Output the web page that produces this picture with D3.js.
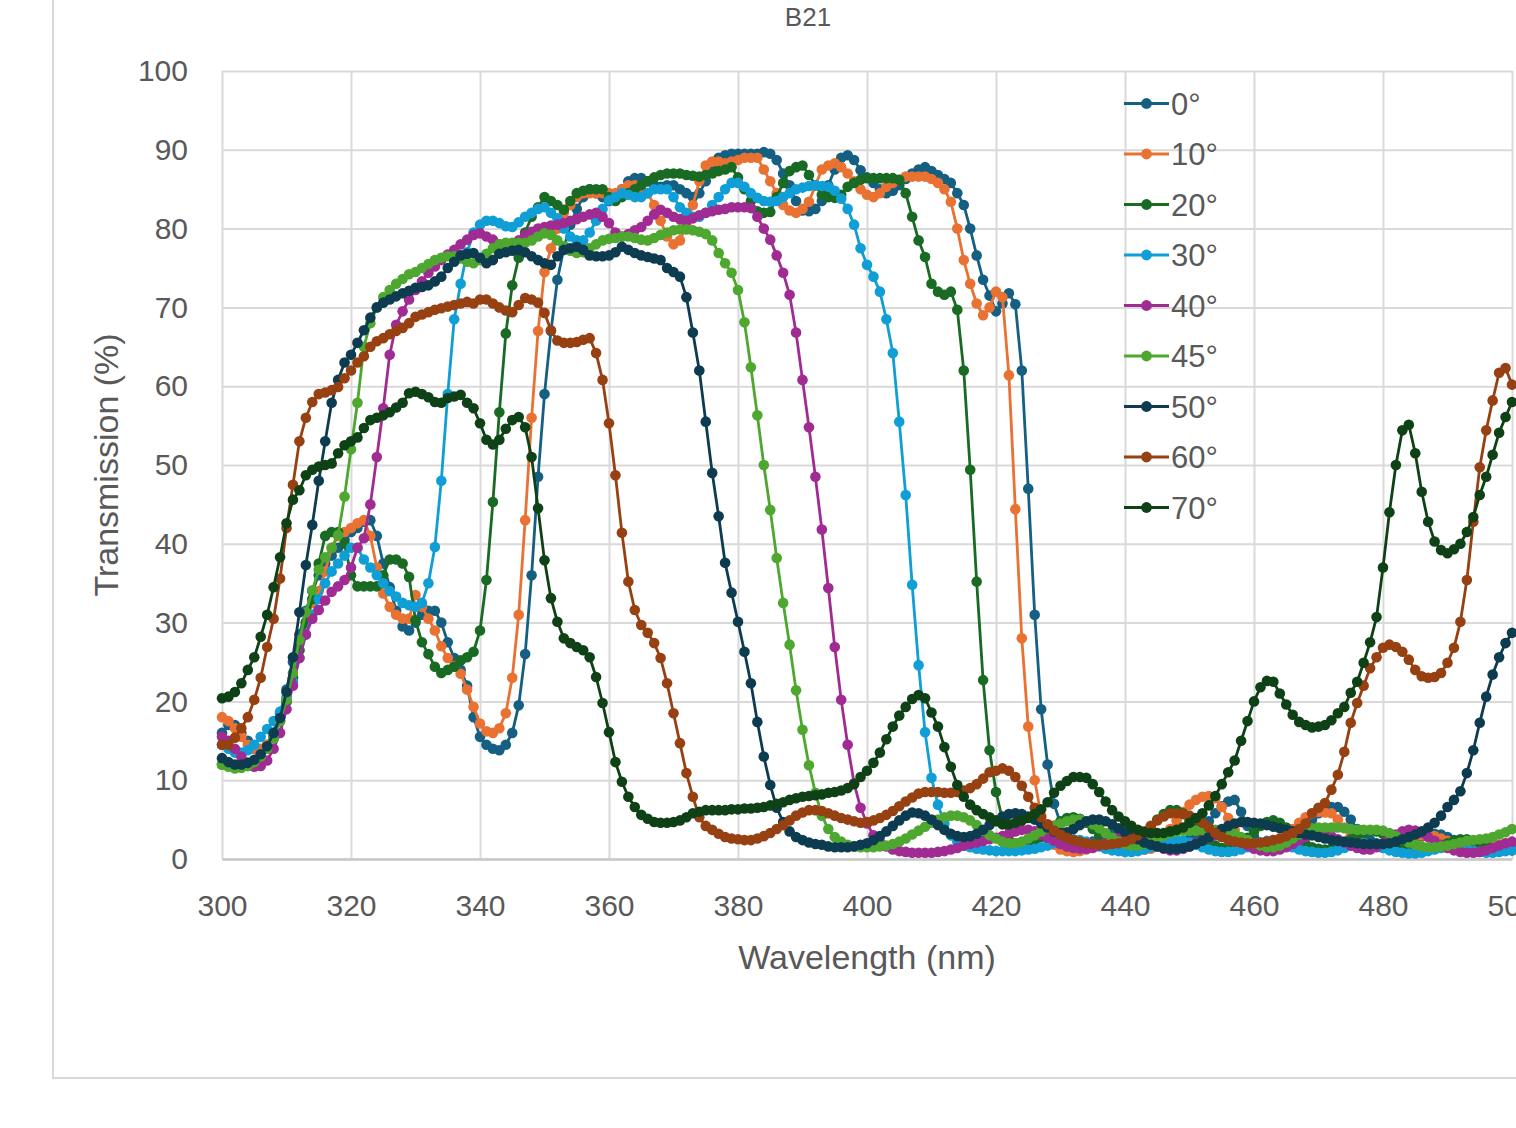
<!DOCTYPE html>
<html>
<head>
<meta charset="utf-8">
<script src="https://cdn.jsdelivr.net/npm/d3@7"></script>
<style>
  body { margin: 0; background: #ffffff; }
  svg text { font-family: "Liberation Sans", Arial, sans-serif; }
</style>
</head>
<body>
<div id="content"></div>
<script>
// sampling grid of the spectrometer: 300..500 nm, 1 nm steps
let wavelengths = d3.range(300, 501, 1);

// transmission (%) per angle of incidence, one row = 10 nm
let t0 = [
  16, 17, 17, 16, 15, 14, 13.8, 14.5, 16, 18.5,
  21.5, 25, 28.5, 31.5, 34, 36, 37.5, 38.5, 39.5, 40.5,
  41.5, 42, 42.8, 43, 41, 37.5, 34.5, 31.5, 29.5, 29,
  30, 31, 31.5, 31.5, 30, 27.5, 25.5, 24, 22, 18,
  15.5, 14.5, 14, 13.8, 14.5, 16, 19.5, 26, 36, 48.5,
  59, 67, 73.5, 77.5, 80.5, 82.5, 84, 85, 84.5, 84,
  83.5, 84, 85, 86, 86.4, 86.4, 86, 85.5, 85.3, 85.5,
  85.5, 85, 84.5, 84, 84.5, 86, 87.5, 89, 89.3, 89.5,
  89.5, 89.5, 89.5, 89.5, 89.7, 89.5, 88.7, 87, 85.5, 83.5,
  82.3, 82.2, 82.5, 83.5, 85.5, 87.5, 89, 89.3, 88.7, 87.4,
  86.5, 85.8, 85, 84.5, 84.8, 85.5, 86.3, 87, 87.5, 87.8,
  87.3, 86.8, 86.3, 85.8, 84.5, 83, 80, 76.6, 73.5, 71.5,
  69.5, 70.5, 71.8, 70.4, 62, 47, 31, 19, 12, 7,
  4.5, 3, 2.2, 2, 2, 2.2, 2.5, 3, 3.5, 3.8,
  3.8, 3.5, 3, 2.5, 2.1, 1.8, 1.7, 1.7, 1.9, 2.2,
  2.5, 3, 3.8, 4.8, 5.8, 6.7, 7.3, 7.5, 6, 4.2,
  2.8, 2, 1.6, 1.5, 1.6, 2, 2.6, 3.3, 4, 5,
  5.8, 6.4, 6.6, 6.6, 6, 5, 3.8, 3, 2.4, 2,
  1.8, 1.7, 1.8, 2, 2.3, 2.6, 2.9, 3.1, 3.2, 3.1,
  2.8, 2.4, 2, 1.7, 1.5, 1.4, 1.4, 1.5, 1.7, 1.9,
  2
];
let t10 = [
  18, 17.5, 16.6, 15.5, 14.5, 14, 14, 14.5, 15.5, 17.5,
  20, 23, 26.5, 30, 32.5, 34, 36.5, 39.5, 41, 41.5,
  42, 42.6, 43, 41, 37, 33.7, 32, 31, 30.5, 30.5,
  33.5, 32, 30.5, 29, 27, 25.5, 24.5, 23.5, 21.5, 19.3,
  17.2, 16.2, 16, 16.6, 18.5, 23, 31, 43, 56, 67,
  74.5, 77.5, 80, 82, 83, 84, 84.5, 84.5, 84.5, 84.5,
  84.5, 84.5, 85, 85.5, 85.5, 85, 84.5, 83, 81, 79,
  78, 78.5, 80.5, 83, 86, 88, 88.5, 88.5, 88.3, 88.5,
  88.7, 89, 89, 89, 87.5, 86, 84.5, 83, 82.3, 82,
  82.5, 83.4, 85.5, 87.5, 88, 88.3, 87.8, 87, 86, 85,
  84.3, 84, 84.5, 85.3, 85.8, 86.2, 86.6, 86.6, 86.6, 86.6,
  86.3, 85.8, 85, 83.4, 80, 76, 73, 70.5, 69, 70,
  72, 71.3, 61.4, 44.4, 28, 16.8, 10, 5.5, 3, 1.8,
  1.2, 1, 0.9, 1, 1.2, 1.5, 1.8, 2, 2, 1.8,
  1.5, 1.3, 1.2, 1.2, 1.3, 2, 2.8, 3.8, 4.9, 6,
  6.9, 7.5, 7.9, 8, 7.7, 6.6, 5.2, 3.7, 2.6, 1.9,
  1.5, 1.4, 1.5, 1.8, 2.3, 3, 3.8, 4.6, 5.3, 5.8,
  6, 5.9, 5.8, 5, 4, 3, 2.4, 2, 1.7, 1.6,
  1.6, 1.7, 1.9, 2.2, 2.5, 2.8, 3, 3, 2.9, 2.6,
  2.3, 2, 1.7, 1.5, 1.4, 1.4, 1.5, 1.6, 1.8, 2,
  2.1
];
let t20 = [
  12, 11.8, 11.6, 11.6, 11.8, 12.2, 13, 14, 15.5, 17.5,
  20, 23, 26.5, 30, 33, 37.5, 41, 41.5, 41.5, 40,
  36, 34.6, 34.6, 34.6, 34.6, 36, 38, 38, 37.5, 35.8,
  30.3, 27.5, 26, 24.4, 23.6, 24, 24.4, 25.2, 25.6, 26.3,
  29, 35.4, 45.3, 56.7, 66.7, 72.8, 76.3, 79.5, 81.5, 82.7,
  84, 83.5, 83, 82.4, 83.5, 84.5, 84.8, 85, 85, 85,
  84, 83.5, 84, 84.5, 85, 85.5, 86, 86.5, 86.8, 87,
  87, 87, 86.8, 86.7, 86.6, 86.8, 87, 87.3, 87.5, 87.8,
  86.5, 85, 83.5, 82.2, 82, 82.1, 84, 85.8, 87.3, 87.8,
  88, 86.8, 85.5, 84.3, 84, 83.9, 84.3, 85.3, 85.8, 86.2,
  86.4, 86.4, 86.4, 86.4, 86.4, 86.2, 84.5, 81.5, 78.5, 76.4,
  73, 72, 71.6, 72, 69.7, 62, 49.4, 35.2, 22.7, 13.8,
  8.5, 5, 3, 2, 1.7, 1.8, 2.2, 2.8, 3.5, 4.2,
  4.8, 5.2, 5.3, 5.1, 4.6, 3.8, 3, 2.3, 1.8, 1.6,
  1.6, 1.9, 2.4, 3.2, 4.1, 5, 5.7, 6.2, 6.2, 5.8,
  5, 4, 3, 2.2, 1.7, 1.4, 1.3, 1.5, 2, 2.7,
  3.5, 4.2, 4.7, 4.9, 4.6, 4, 3.2, 2.5, 1.9, 1.5,
  1.3, 1.2, 1.3, 1.6, 2, 2.5, 3, 3.4, 3.6, 3.5,
  3.2, 2.7, 2.2, 1.8, 1.5, 1.3, 1.2, 1.2, 1.4, 1.7,
  2, 2.3, 2.5, 2.5, 2.3, 2, 1.7, 1.4, 1.2, 1.1,
  1.1
];
let t30 = [
  14.5, 14, 13.5, 13.5, 13.8, 14.5, 15.5, 16.5, 17.5, 18.7,
  20.5, 22.5, 25.5, 28.5, 31, 33, 35, 36.5, 37.5, 38.5,
  39.5, 39.5, 38, 37, 36, 35, 34, 33.3, 32.5, 32.2,
  32, 32.5, 35, 39.6, 48, 59, 68.5, 73, 77, 79.5,
  80.5, 81, 81, 80.7, 80.3, 80.2, 80.8, 81.5, 82, 82.5,
  82.7, 82, 81.3, 80, 79, 78.5, 78.5, 79.5, 81, 82.5,
  83.6, 84, 84.5, 84.3, 84, 84, 84.5, 85, 85, 85,
  84, 82.7, 82, 81.5, 81.5, 82, 83, 84, 85, 85.8,
  85.8, 85.3, 84.5, 83.9, 83.5, 83.4, 83.5, 84, 84.5, 85,
  85.2, 85.4, 85.5, 85.4, 85.3, 84.8, 83.8, 82.5, 80.5, 77.5,
  75.4, 73.9, 72, 68.5, 64.2, 55.5, 46.2, 34.8, 24.6, 16.1,
  10.3, 6.9, 4.5, 3, 2.2, 1.7, 1.5, 1.3, 1.2, 1.1,
  1, 1, 1, 1, 1.1, 1.2, 1.3, 1.5, 1.7, 2,
  2.2, 2.4, 2.5, 2.4, 2.2, 1.9, 1.6, 1.3, 1.1, 1,
  0.9, 0.9, 1, 1.2, 1.5, 1.8, 2.1, 2.3, 2.4, 2.3,
  2.1, 1.8, 1.5, 1.2, 1, 0.9, 0.9, 1, 1.2, 1.5,
  1.8, 2.1, 2.3, 2.3, 2.1, 1.8, 1.5, 1.2, 1, 0.9,
  0.8, 0.8, 0.9, 1.1, 1.4, 1.7, 1.9, 2, 1.9, 1.7,
  1.4, 1.1, 0.9, 0.8, 0.7, 0.7, 0.8, 1, 1.2, 1.4,
  1.5, 1.5, 1.4, 1.2, 1, 0.9, 0.8, 0.8, 0.9, 1,
  1.1
];
let t40 = [
  15.5, 15, 14, 13, 12.2, 11.7, 11.8, 12.5, 14, 16,
  19, 22, 25.5, 28.5, 30.5, 31.6, 32.8, 33.9, 34.6, 35.4,
  37, 39.5, 40.7, 45, 51, 57.2, 64, 67.8, 69.5, 71,
  72.2, 73.3, 74.4, 75.2, 76, 76.7, 77.3, 78, 78.6, 79.2,
  79.4, 79, 78.6, 78, 77.8, 78, 78.5, 79.2, 79.6, 80,
  80.2, 80.4, 80.5, 80.7, 81, 81.2, 81.5, 81.8, 82, 81.5,
  80.7, 79.5, 79, 79.3, 79.8, 80.2, 81, 81.8, 82.4, 82,
  81.5, 81.2, 81, 81.3, 81.7, 82, 82.2, 82.4, 82.5, 82.7,
  82.7, 82.7, 82.6, 81.5, 80, 78.6, 76.6, 74.4, 71.6, 66.8,
  60.8, 54.8, 48.5, 41.8, 34.4, 26.9, 20.2, 14.5, 9.6, 6.5,
  4.5, 3, 2.2, 1.6, 1.2, 1, 0.9, 0.8, 0.8, 0.8,
  0.8, 0.9, 1, 1.2, 1.4, 1.7, 1.9, 2.1, 2.3, 2.5,
  2.7, 2.9, 3.2, 3.5, 3.7, 3.7, 3.5, 3.1, 2.7, 2.3,
  1.9, 1.6, 1.4, 1.3, 1.3, 1.4, 1.7, 2.1, 2.5, 2.8,
  3, 3, 2.8, 2.4, 2, 1.6, 1.3, 1.1, 1.1, 1.3,
  1.6, 2, 2.4, 2.8, 3, 3, 2.8, 2.5, 2.1, 1.7,
  1.3, 1.1, 1, 1, 1.2, 1.5, 1.9, 2.4, 2.8, 3.1,
  3.3, 3.2, 2.9, 2.5, 2.1, 1.7, 1.4, 1.2, 1.2, 1.5,
  2, 2.6, 3.1, 3.5, 3.7, 3.6, 3.3, 2.8, 2.3, 1.8,
  1.4, 1.1, 0.9, 0.8, 0.8, 0.9, 1.1, 1.4, 1.7, 2,
  2.2
];
let t45 = [
  12, 11.7, 11.5, 11.6, 11.8, 12.3, 13, 14, 15.3, 17.5,
  20.2, 23.6, 27.8, 31.3, 34.1, 36.7, 38.3, 39.5, 41.1, 46,
  52, 57.9, 65, 68, 70, 71.3, 72.2, 73, 73.6, 74.2,
  74.5, 75, 75.5, 76, 76.3, 76.5, 76.5, 76.2, 75.8, 75.6,
  76, 76.8, 77.5, 78, 78.2, 78.2, 78.2, 78.2, 78.5, 79,
  79.4, 79.2, 78.5, 77.8, 77.2, 76.9, 77, 77.5, 78, 78.5,
  78.7, 78.8, 79, 79, 78.8, 78.6, 78.5, 78.8, 79.2, 79.5,
  79.8, 79.9, 79.9, 79.8, 79.6, 79.3, 78.5, 76.9, 75.6, 74.4,
  72.2, 68.1, 62.4, 56.3, 50, 44.3, 38.2, 32.5, 27.2, 21.4,
  16.4, 11.9, 8.4, 5.5, 3.8, 2.8, 2.2, 1.8, 1.6, 1.5,
  1.5, 1.5, 1.6, 1.7, 1.9, 2.2, 2.6, 3.1, 3.6, 4.1,
  4.6, 5, 5.3, 5.5, 5.5, 5.3, 4.9, 4.3, 3.6, 3,
  2.6, 2.2, 2, 2, 2.2, 2.6, 3, 3.5, 3.9, 4.2,
  4.5, 4.8, 5, 5, 4.8, 4.4, 3.9, 3.3, 2.7, 2.2,
  1.9, 1.7, 1.7, 1.9, 2.2, 2.6, 3, 3.3, 3.5, 3.6,
  3.6, 3.6, 3.7, 3.7, 3.7, 3.7, 3.5, 3.2, 2.8, 2.4,
  2, 1.7, 1.5, 1.5, 1.7, 2.1, 2.6, 3.1, 3.6, 3.9,
  4, 4, 4, 4, 3.9, 3.8, 3.7, 3.7, 3.7, 3.7,
  3.6, 3.3, 2.9, 2.5, 2.1, 1.8, 1.6, 1.5, 1.5, 1.6,
  1.7, 1.9, 2.1, 2.3, 2.4, 2.5, 2.6, 2.8, 3.1, 3.4,
  3.8
];
let t50 = [
  12.8, 12.3, 12, 12, 12.2, 12.6, 13.3, 14.3, 16, 17.9,
  21.2, 25.6, 31.3, 37.3, 42.4, 48, 53, 57.9, 60.8, 63,
  64, 65.5, 67.1, 68.7, 70, 70.6, 71, 71.4, 71.8, 72.1,
  72.5, 72.6, 72.8, 73.3, 73.9, 75, 75.8, 76.6, 76.8, 76.9,
  76.3, 75.6, 76, 76.8, 77, 77.2, 77.3, 77, 76.5, 76,
  75.6, 75.4, 76.5, 77.3, 77.5, 77.7, 77.3, 76.6, 76.5, 76.5,
  76.6, 77, 77.7, 77.3, 76.9, 76.6, 76.4, 76.2, 76, 75,
  74.5, 73.9, 71.3, 66.8, 62, 55.5, 49, 43.5, 37.6, 33.8,
  30.1, 26.3, 22.3, 17.4, 13, 9.4, 6.5, 4.7, 3.5, 2.8,
  2.4, 2.1, 1.9, 1.8, 1.6, 1.5, 1.5, 1.5, 1.6, 1.8,
  2, 2.4, 2.9, 3.5, 4.2, 4.9, 5.5, 5.9, 5.8, 5.5,
  5, 4.3, 3.7, 3.2, 2.9, 2.8, 2.9, 3.2, 3.7, 4.3,
  4.9, 5.4, 5.7, 5.8, 5.7, 5.4, 5, 4.5, 4, 3.5,
  3.3, 3.4, 3.8, 4.3, 4.8, 5, 5, 4.8, 4.4, 3.9,
  3.4, 2.9, 2.5, 2.1, 1.8, 1.6, 1.4, 1.3, 1.3, 1.4,
  1.6, 1.9, 2.3, 2.8, 3.3, 3.8, 4.2, 4.5, 4.7, 4.7,
  4.6, 4.5, 4.3, 4.1, 3.9, 3.7, 3.5, 3.3, 3.1, 3,
  2.8, 2.6, 2.4, 2.3, 2.2, 2.1, 2, 1.9, 1.9, 1.9,
  1.9, 2, 2.2, 2.5, 2.8, 3.1, 3.5, 4, 4.6, 5.5,
  6.6, 7.5, 8.6, 10.9, 13.8, 17.3, 20.6, 23.4, 25.6, 27.4,
  28.7
];
let t60 = [
  14.5, 14.5, 15.4, 16.6, 18, 20.2, 23, 26.9, 30.5, 35.6,
  42, 47.5, 53, 56, 58, 59, 59.2, 59.5, 59.9, 61,
  62, 63, 63.8, 65, 65.7, 66.1, 66.6, 67, 67.4, 68,
  68.8, 69.1, 69.4, 69.7, 69.9, 70.1, 70.3, 70.5, 70.7, 70.5,
  71, 71, 70.5, 70, 69.6, 69.4, 70.3, 71.2, 71, 70.6,
  69.3, 67.1, 65.8, 65.5, 65.5, 65.6, 65.9, 66.1, 64.2, 60.8,
  55.3, 48.7, 41.4, 35.2, 31.6, 29.7, 28.7, 27.4, 25.5, 22.3,
  18.5, 14.7, 10.9, 7.9, 5.3, 4.2, 3.7, 3.2, 2.8, 2.6,
  2.5, 2.4, 2.4, 2.6, 2.9, 3.3, 3.8, 4.3, 4.9, 5.5,
  5.9, 6.2, 6.2, 6.1, 5.8, 5.5, 5.2, 5, 4.8, 4.6,
  4.7, 4.9, 5.2, 5.6, 6.1, 6.7, 7.3, 7.8, 8.3, 8.5,
  8.5, 8.5, 8.4, 8.4, 8.5, 8.7, 9, 9.5, 10.2, 11,
  11.2, 11.5, 11.2, 10.4, 9.3, 7.9, 6.5, 5.3, 4.4, 3.6,
  3.1, 2.7, 2.4, 2.2, 2, 1.9, 1.8, 1.8, 1.9, 2,
  2.2, 2.5, 3, 3.5, 4.2, 4.9, 5.4, 5.8, 5.8, 5.7,
  5.5, 5.1, 4.6, 4, 3.3, 2.8, 2.4, 2.2, 2.1, 2,
  2, 2.1, 2.2, 2.4, 2.6, 2.9, 3.3, 3.8, 4.5, 5.8,
  6.5, 7.1, 8.8, 10.7, 13.6, 17.3, 19.8, 22, 24.2, 25.6,
  26.8, 27.2, 26.9, 26.3, 25.3, 24, 23.2, 23, 23.1, 23.6,
  24.9, 26.8, 30.1, 35.4, 42.8, 49.7, 54.4, 58.2, 61.7, 62.3,
  60.2
];
let t70 = [
  20.4, 20.6, 21.2, 22.3, 24, 25.6, 28.2, 31, 34.5, 38.3,
  42.6, 45.6, 46.8, 48.7, 49.4, 49.8, 50, 50.2, 51.5, 52.5,
  53, 53.5, 54.7, 55.7, 56, 56.3, 56.7, 57.3, 57.9, 59.1,
  59.3, 59, 58.6, 58, 57.9, 58.5, 58.7, 58.9, 57.9, 57.2,
  55.3, 53.2, 52.6, 53.2, 54.6, 55.7, 56.1, 54.8, 51, 44.5,
  37.9, 33.1, 30.1, 28, 27.4, 26.9, 26.5, 25.6, 23.1, 19.8,
  16.1, 12.3, 9.8, 7.9, 6.6, 5.6, 5.1, 4.7, 4.6, 4.6,
  4.7, 4.9, 5.3, 5.8, 6, 6.2, 6.2, 6.2, 6.2, 6.3,
  6.3, 6.4, 6.4, 6.5, 6.6, 6.8, 7, 7.2, 7.5, 7.7,
  7.9, 8, 8.1, 8.2, 8.4, 8.5, 8.7, 9, 9.5, 10.4,
  11.2, 12.2, 13.5, 15.2, 16.8, 18.2, 19.3, 20.3, 20.8, 20.4,
  18.6, 16.8, 14.2, 11.7, 9.4, 7.9, 6.9, 6.2, 5.7, 5.3,
  4.8, 4.4, 4.4, 4.6, 4.9, 5.2, 5.7, 6.3, 7.2, 8.4,
  9.3, 9.9, 10.4, 10.4, 10.3, 9.5, 8.5, 7.3, 6.2, 5.4,
  4.8, 4.2, 3.7, 3.4, 3.3, 3.3, 3.3, 3.5, 3.7, 4,
  4.6, 5.2, 5.8, 6.8, 8, 9.5, 11, 12.5, 15, 17.5,
  20, 21.8, 22.6, 22.5, 21, 19.6, 18.3, 17.4, 17, 16.7,
  16.8, 17, 17.6, 18.5, 19.3, 21.1, 22.5, 24.9, 27.5, 30.7,
  37, 44, 50, 54.4, 55.1, 51.5, 46.6, 42.8, 40.3, 39.2,
  38.8, 39.3, 40, 41.5, 43.4, 46.2, 48.5, 51.3, 54.1, 56.1,
  58
];

let seriesValues = [t0, t10, t20, t30, t40, t45, t50, t60, t70];
let angleLabels = ["0°", "10°", "20°", "30°", "40°", "45°", "50°", "60°", "70°"];
let xTicks = [300, 320, 340, 360, 380, 400, 420, 440, 460, 480, 500];
let yTicks = [0, 10, 20, 30, 40, 50, 60, 70, 80, 90, 100];
let chartTitle = "B21";

async function init() {

    let width = 1516,
        height = 1128;

    // plot area (the chart runs off the right edge of the picture)
    let left = 222, right = 1512, top = 71, bottom = 859;

    let colors = ["#156082", "#E97132", "#196B24", "#0F9ED5", "#A02B93",
        "#4EA72E", "#0D3B4F", "#974011", "#0F4116"];
    let textColor = "#595959";
    let gridColor = "#D9D9D9";

    let x = d3.scaleLinear().domain([300, 500]).range([left, right]);
    let y = d3.scaleLinear().domain([0, 100]).range([bottom, top]);

    let svg = d3.select("#content")
        .append("svg")
        .attr("width", width)
        .attr("height", height)
        .style("display", "block");

    svg.append("rect")
        .attr("width", width)
        .attr("height", height)
        .attr("fill", "#ffffff");

    // chart frame, only its left and bottom edges are in the picture
    svg.append("path")
        .attr("d", `M53,0 V1078 H${width}`)
        .attr("fill", "none")
        .attr("stroke", gridColor)
        .attr("stroke-width", 2);

    // horizontal gridlines
    svg.append("g")
        .attr("transform", `translate(${left},0)`)
        .call(d3.axisLeft(y).tickValues(yTicks).tickSize(-(right - left)).tickFormat(""))
        .call(g => g.select(".domain").remove())
        .selectAll("line")
        .attr("stroke", gridColor)
        .attr("stroke-width", 2);

    // vertical gridlines
    svg.append("g")
        .attr("transform", `translate(0,${top})`)
        .call(d3.axisTop(x).tickValues(xTicks).tickSize(-(bottom - top)).tickFormat(""))
        .call(g => g.select(".domain").remove())
        .selectAll("line")
        .attr("stroke", gridColor)
        .attr("stroke-width", 2);

    // x axis line + labels (the 500 label is cut by the picture edge, as in the original)
    let xAxis = svg.append("g")
        .attr("transform", `translate(0,${bottom})`)
        .call(d3.axisBottom(x).tickValues(xTicks).tickSize(0).tickPadding(36).tickFormat(d3.format("d")));
    xAxis.select(".domain")
        .attr("stroke", "#C8C8C8")
        .attr("stroke-width", 2.5);
    xAxis.selectAll("text")
        .attr("fill", textColor)
        .style("font-size", "30px");

    // y axis labels
    let yAxis = svg.append("g")
        .attr("transform", `translate(${left},0)`)
        .call(d3.axisLeft(y).tickValues(yTicks).tickSize(0).tickPadding(34).tickFormat(d3.format("d")));
    yAxis.select(".domain").remove();
    yAxis.selectAll("text")
        .attr("fill", textColor)
        .style("font-size", "30px");

    // titles
    svg.append("text")
        .attr("x", 808)
        .attr("y", 26)
        .attr("text-anchor", "middle")
        .attr("fill", textColor)
        .style("font-size", "26px")
        .text(chartTitle);

    svg.append("text")
        .attr("x", (left + 1512) / 2)
        .attr("y", 969)
        .attr("text-anchor", "middle")
        .attr("fill", textColor)
        .style("font-size", "34px")
        .text("Wavelength (nm)");

    svg.append("text")
        .attr("transform", `translate(118,${(top + bottom) / 2}) rotate(-90)`)
        .attr("text-anchor", "middle")
        .attr("fill", textColor)
        .style("font-size", "34px")
        .text("Transmission (%)");

    // series: line first, then its markers, later angles on top
    let line = d3.line()
        .x((d, i) => x(wavelengths[i]))
        .y(d => y(d));

    let plot = svg.append("g");
    seriesValues.forEach((vals, s) => {
        let g = plot.append("g");
        g.append("path")
            .datum(vals)
            .attr("d", line)
            .attr("fill", "none")
            .attr("stroke", colors[s])
            .attr("stroke-width", 2.8)
            .attr("stroke-linejoin", "round");
        g.selectAll("circle")
            .data(vals)
            .enter()
            .append("circle")
            .attr("cx", (d, i) => x(wavelengths[i]))
            .attr("cy", d => y(d))
            .attr("r", 5.3)
            .attr("fill", colors[s]);
    });

    // legend
    let legend = svg.append("g");
    let legendRows = legend.selectAll("g")
        .data(angleLabels)
        .enter()
        .append("g")
        .attr("transform", (d, i) => `translate(1124,${103.5 + i * 50.5})`);
    legendRows.append("line")
        .attr("x1", 0)
        .attr("x2", 45)
        .attr("stroke", (d, i) => colors[i])
        .attr("stroke-width", 3);
    legendRows.append("circle")
        .attr("cx", 22.5)
        .attr("r", 5.4)
        .attr("fill", (d, i) => colors[i]);
    legendRows.append("text")
        .attr("x", 47)
        .attr("dy", "0.36em")
        .attr("fill", textColor)
        .style("font-size", "31px")
        .text(d => d);
}
init()
</script>
</body>
</html>
